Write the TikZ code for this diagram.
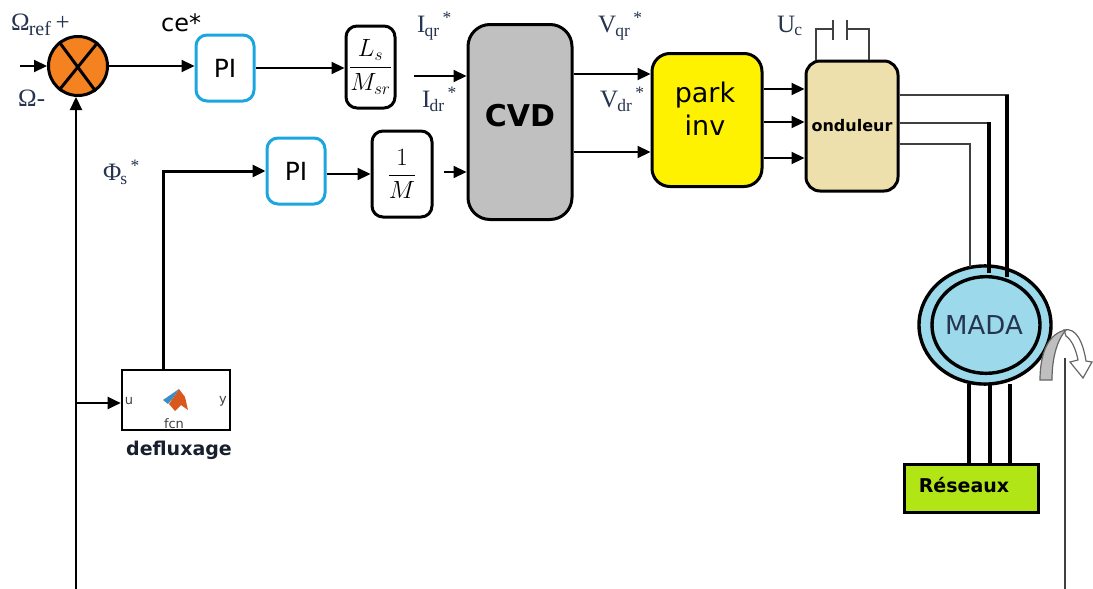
\documentclass[tikz,border=0pt]{standalone}
\usepackage{amsmath}
\usepackage{fontspec}
\setmainfont{DejaVu Sans}
\newfontfamily\labelfont{Liberation Serif}
\usetikzlibrary{arrows.meta}
\definecolor{sumorange}{HTML}{F58220}
\definecolor{piblue}{HTML}{1CA6E0}
\definecolor{cvdgray}{HTML}{C0C0C0}
\definecolor{parkyellow}{HTML}{FFF200}
\definecolor{ondbeige}{HTML}{EEE0AC}
\definecolor{madablue}{HTML}{9BD9EB}
\definecolor{resgreen}{HTML}{B2E516}
\definecolor{labelblue}{HTML}{26344F}
\definecolor{iconorange}{HTML}{D9581E}
\definecolor{iconblue}{HTML}{3A8EC4}
\tikzset{
  block/.style={draw, rounded corners=11pt, line width=3pt, align=center, inner sep=0pt, text=black},
  piblock/.style={block, draw=piblue, minimum width=58pt, minimum height=66pt, font=\fontsize{25}{27}\selectfont},
  gain/.style={block, font=\fontsize{26}{28}\selectfont},
  sig/.style={-{Triangle[length=13pt,width=12pt]}, line width=2.2pt},
  thinwire/.style={line width=1.6pt, draw=black!75},
  fatwire/.style={line width=3.4pt},
  lab/.style={font=\labelfont\fontsize{25}{27}\selectfont, text=labelblue, inner sep=0pt, anchor=west},
  iconlab/.style={font=\fontsize{13}{14}\selectfont, text=black!75, inner sep=0pt},
}
\newcommand{\sstar}[2]{#1\textsubscript{\kern-1pt#2}\textsuperscript{\,*}}
\begin{document}
\begin{tikzpicture}[x=1pt, y=-1pt]
  \useasboundingbox (0,0) rectangle (1093,589);
  % free ends
  \coordinate (omegain) at (20,66);
  \coordinate (speedin) at (76,589);
  \coordinate (branch) at (76,403);
  \coordinate (torquein) at (1065,589);
  \coordinate (torquetop) at (1065,358);
  \coordinate (iqstart) at (414,76);
  \coordinate (idstart) at (444,172);
  % blocks
  \node[circle, draw, fill=sumorange, line width=3pt, minimum size=59pt, inner sep=0pt] (sum) at (78,66) {};
  \draw[line width=3pt] (sum.128) -- (sum.-55);
  \draw[line width=3pt] (sum.50) -- (sum.232);
  \node[piblock] (pia) at (225,68) {PI};
  \node[piblock] (pib) at (296,171) {PI};
  \node[gain, minimum width=49pt, minimum height=82pt] (ls) at (370.5,67) {$\dfrac{L_s}{M_{sr}}$};
  \node[gain, minimum width=60pt, minimum height=86pt] (invm) at (402,174) {$\dfrac{1}{M}$};
  \node[block, fill=cvdgray, rounded corners=22pt, minimum width=104pt, minimum height=195pt] (cvd) at (520,122) {};
  \node[font=\bfseries\fontsize{30}{32}\selectfont, inner sep=0pt] (cvdtxt) at (520,116) {CVD};
  \node[block, fill=parkyellow, rounded corners=18pt, minimum width=110pt, minimum height=133pt] (park) at (707,120) {};
  \node[font=\fontsize{27}{33}\selectfont, align=center, inner sep=0pt] (parktxt) at (705,109) {park\\inv};
  \node[block, fill=ondbeige, rounded corners=14pt, minimum width=92pt, minimum height=130pt, font=\bfseries\fontsize{16}{18}\selectfont] (ond) at (852,126) {onduleur};
  \node[draw, rectangle, line width=2.6pt, minimum width=108pt, minimum height=60pt, inner sep=0pt] (fcn) at (176,400) {};
  \node[iconlab] (fcnu) at (129,401) {u};
  \node[iconlab] (fcny) at (223,401) {y};
  \node[iconlab] (fcnname) at (174,424) {fcn};
  \fill[iconorange] (179,389) -- (185,397) -- (188,410) -- (181,405) -- (175,411) -- (169,404) -- cycle;
  \fill[iconblue] (163,400) -- (179,389) -- (173,398) -- (168,404) -- cycle;
  \node[font=\bfseries\fontsize{19}{21}\selectfont, text=labelblue!60!black, inner sep=0pt] (deflux) at (179,450) {defluxage};
  \node[circle, draw, fill=madablue, line width=3.4pt, inner sep=0pt, minimum width=132pt, yscale=0.895] (madaout) at (985,325) {};
  \node[circle, draw, fill=madablue, line width=3.4pt, inner sep=0pt, minimum width=108pt, yscale=0.895] (mada) at (986,325) {};
  \node[font=\fontsize{26}{28}\selectfont, text=labelblue, inner sep=0pt] (madatxt) at (984,325) {MADA};
  \node[draw, rectangle, fill=resgreen, line width=3.4pt, minimum width=134pt, minimum height=48pt, inner sep=0pt] (res) at (971.5,488.5) {};
  \node[font=\bfseries\fontsize{19}{21}\selectfont, inner sep=0pt] (restxt) at (964,485) {Réseaux};
  % signal path
  \draw[sig] (omegain) -- (sum.west);
  \draw[sig] (speedin) -- (sum.south -| speedin);
  \draw[sig] (branch) -- (fcn.west |- branch);
  \draw[sig] (sum.east) -- (pia.west |- sum.east);
  \draw[sig] (pia.east) -- (ls.west |- pia.east);
  \draw[sig, line width=3pt] (fcn.north -| 163,0) -- (163,171) -- (pib.west);
  \draw[sig] (pib.east |- invm.west) -- (invm.west);
  \draw[sig] (iqstart) -- (cvd.west |- iqstart);
  \draw[sig] (idstart) -- (cvd.west |- idstart);
  \draw[sig] (cvd.east |- 0,74) -- (park.west |- 0,74);
  \draw[sig] (cvd.east |- 0,152) -- (park.west |- 0,152);
  \foreach \y in {89,122,158}
    \draw[sig] (park.east |- 0,\y) -- (ond.west |- 0,\y);
  % inverter to machine
  \draw[thinwire] (ond.east |- 0,95) -- (1009,95);
  \draw[fatwire] (1007,95) -- (1007,277);
  \draw[thinwire] (ond.east |- 0,123) -- (989,123);
  \draw[fatwire] (989,122) -- (989,273);
  \draw[thinwire] (ond.east |- 0,144) -- (970,144) -- (970,267);
  \foreach \x in {969,990,1010}
    \draw[fatwire] (\x,384) -- (\x,463);
  % capacitor
  \draw[thinwire] (ond.north -| 816,0) -- (816,29) -- (833,29);
  \draw[thinwire] (833,20) -- (833,40);
  \draw[thinwire] (847,20) -- (847,40);
  \draw[thinwire] (847,29) -- (869,29) -- (ond.north -| 869,0);
  % rotation
  \draw[thinwire] (torquein) -- (torquetop);
  \draw[black!60, line width=1.2pt, fill=white] (1064,330) .. controls (1076,327) and (1083,342) .. (1086,361) -- (1092,362) -- (1083,378) -- (1070,362) -- (1078,360) .. controls (1076,350) and (1072,340) .. (1066,336) -- cycle;
  \draw[black!60, line width=1.2pt, fill=black!25] (1040,380) .. controls (1040,352) and (1049,333) .. (1066,330) .. controls (1057,340) and (1052,358) .. (1052,380) -- cycle;
  % labels
  \node[lab] (lomegaref) at (11,25) {Ω\textsubscript{\kern-1pt\fontsize{20}{22}\selectfont ref}\,+};
  \node[lab] (lomega) at (18,98) {Ω-};
  \node[font=\fontsize{24}{26}\selectfont, inner sep=0pt, anchor=west] (lce) at (161,23) {ce*};
  \node[lab] (lphi) at (103,172) {\sstar{Φ}{s}};
  \node[lab] (liq) at (417,26) {\sstar{I}{qr}};
  \node[lab] (lid) at (422,99) {\sstar{I}{dr}};
  \node[lab] (lvq) at (598,26) {\sstar{V}{qr}};
  \node[lab] (lvd) at (600,99) {\sstar{V}{dr}};
  \node[lab] (luc) at (777,26) {U\textsubscript{\kern-1pt c}};
\end{tikzpicture}
\end{document}
